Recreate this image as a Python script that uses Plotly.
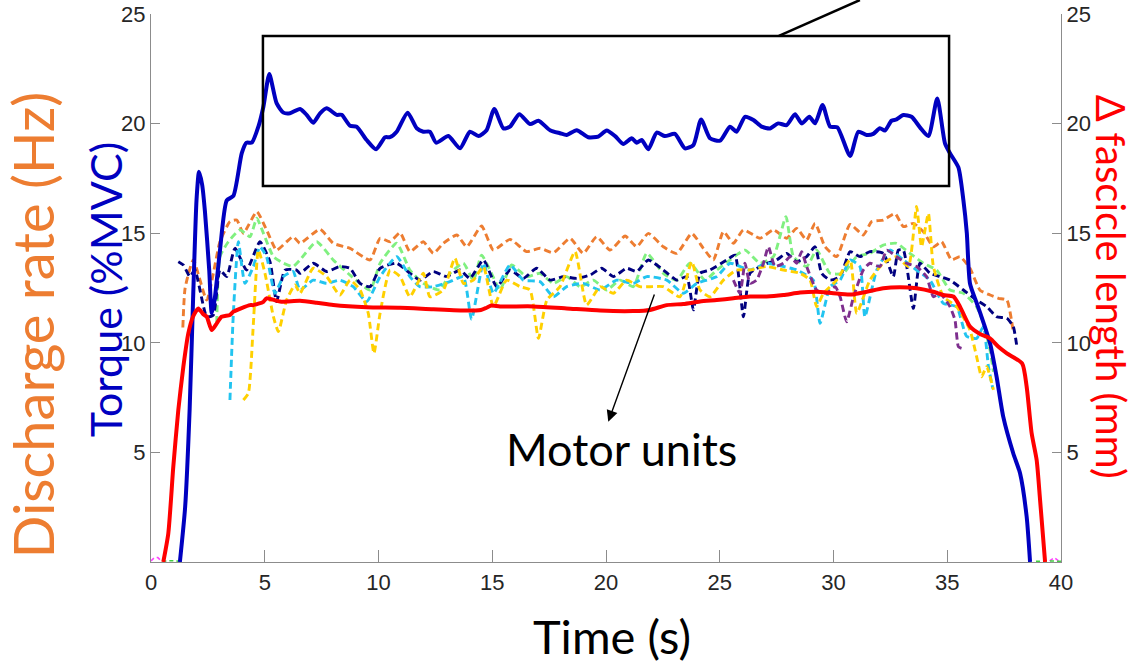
import plotly.graph_objects as go

# ---------------- data ----------------
tq_x = [1.27,1.5,1.7,1.85,2.0,2.11,2.25,2.37,2.56,2.67,2.8,3.03,3.33,3.62,3.99,4.2,4.43,4.72,4.94,5.2,
        5.52,5.82,6.11,6.55,6.84,7.13,7.43,7.72,8.16,8.38,8.75,9.04,9.48,9.89,10.29,10.5,10.8,11.28,11.68,11.97,
        12.26,12.53,13.07,13.58,14.02,14.39,14.75,15.09,15.49,15.78,16.19,16.66,17.03,17.54,17.98,18.27,18.71,19.22,19.66,20.03,
        20.4,20.76,21.13,21.35,21.57,21.86,22.23,22.59,23.03,23.47,23.84,24.18,24.57,25.01,25.45,25.74,26.11,26.48,26.84,27.21,
        27.57,27.94,28.31,28.6,28.94,29.19,29.52,29.85,30.17,30.73,31.09,31.46,31.75,32.04,32.26,32.55,32.77,33.07,33.43,33.8,
        34.17,34.56,34.9,35.12,35.49,35.71,35.86,36.0,36.3,36.6,36.88,37.17,37.46,37.9,38.2,38.49,38.64]
tq_y = [0,2.5,7.0,12.0,16.5,17.8,17.2,16.0,13.3,11.35,12.0,14.2,16.5,16.7,18.65,19.13,19.13,19.86,20.77,22.26,
        20.93,20.5,20.47,20.67,20.4,20.04,20.47,20.7,20.4,20.4,19.9,19.86,19.25,18.83,19.38,19.38,19.63,20.5,19.79,19.63,
        19.63,19.13,19.43,18.87,19.63,19.43,19.7,20.67,19.78,19.86,20.43,19.98,20.13,19.7,19.56,19.48,19.7,19.38,19.41,19.68,
        19.43,19.07,19.33,19.13,19.25,18.83,19.59,19.43,19.53,18.87,19.02,20.19,19.33,19.22,19.86,19.63,20.31,20.16,19.86,19.78,
        20.01,19.93,20.43,20.01,20.31,20.01,20.85,19.86,19.83,18.52,19.63,19.48,19.53,19.79,19.68,20.13,20.19,20.39,20.31,19.83,
        19.43,21.15,19.1,18.65,18.0,16.5,15.0,12.7,11.8,10.9,9.98,8.45,6.63,4.96,4.05,2.07,0]

fl_x = [0.54,0.76,0.98,1.2,1.42,1.64,1.85,2.08,2.3,2.45,2.67,2.9,3.1,3.47,3.62,4.35,4.5,4.94,5.08,5.67,
        6.55,7.28,8.01,9.48,10.95,12.41,13.88,14.5,14.75,14.97,15.34,16.8,18.27,19.74,21.2,21.93,22.67,23.4,24.13,24.87,
        25.6,26.33,27.06,27.8,28.53,29.26,29.99,30.73,31.46,32.19,32.92,33.65,34.39,34.83,35.27,35.56,36.0,36.44,36.88,37.25,
        37.62,38.29,38.49,38.71,38.93,39.08,39.3]
fl_y = [0,1.3,4.35,6.93,8.9,10.43,11.2,11.57,11.3,11.19,10.58,10.9,11.19,11.27,11.42,11.72,11.72,11.87,12.03,11.88,
        11.92,11.83,11.72,11.62,11.6,11.53,11.47,11.5,11.6,11.7,11.66,11.66,11.57,11.47,11.45,11.5,11.72,11.77,11.88,11.95,
        12.03,12.11,12.11,12.18,12.29,12.33,12.26,12.2,12.33,12.49,12.53,12.49,12.33,12.18,12.11,11.65,10.74,10.4,10.2,9.82,
        9.52,9.06,8.0,5.87,4.65,2.83,0]

or_x = [1.4,1.5,1.86,2.45,3.03,3.47,3.77,4.06,4.65,5.08,5.52,5.96,6.25,6.55,7.43,8.01,8.75,9.63,10.07,10.51,
        10.95,11.38,11.97,12.41,12.85,13.44,13.88,14.53,15.05,15.78,16.51,17.1,17.69,18.42,19.0,19.59,20.18,20.84,21.35,21.86,
        22.52,23.11,23.77,24.28,24.72,25.16,25.6,26.04,26.77,27.36,27.94,28.38,28.82,29.19,29.63,30.14,30.73,31.31,31.68,32.19,
        32.7,33.07,33.51,33.95,34.39,34.75,35.19,35.56,36.0,36.44,36.88,37.25,37.62,37.9]
or_y = [10.7,12.5,13.78,11.95,14.61,15.53,15.6,15.0,15.98,15.15,14.23,14.61,14.84,14.54,15.18,14.54,14.31,13.78,14.77,14.61,
        15.02,14.16,14.61,14.08,14.54,14.92,14.38,15.33,14.23,14.72,14.16,14.31,14.11,14.77,14.08,14.84,14.23,14.87,14.38,14.99,
        14.38,14.08,14.99,14.31,13.78,15.07,14.54,15.15,14.77,15.15,14.77,15.22,14.69,15.45,14.38,13.93,15.4,14.92,15.53,15.6,
        15.9,15.3,15.45,15.07,14.38,14.61,13.78,13.93,13.4,12.4,12.18,12.03,11.95,10.5]

gr_x = [2.89,3.03,3.4,3.91,4.35,4.65,4.94,5.38,5.82,6.25,6.55,7.28,8.01,8.75,9.63,10.07,10.8,11.38,11.97,12.7,
        13.14,13.73,14.17,14.53,14.97,15.34,15.85,16.51,17.1,17.69,18.27,18.86,19.44,20.03,20.62,21.2,21.79,22.52,23.11,23.69,
        24.35,24.87,25.45,26.11,26.77,27.36,27.91,28.24,28.82,29.26,29.85,30.43,31.02,31.6,32.19,32.77,33.36,33.95,34.53,35.12,
        35.71,36.29,36.59,36.88,37.03]
gr_y = [10.89,13.93,14.61,15.15,14.84,15.68,15.0,13.93,13.63,13.48,13.78,14.61,13.78,13.09,12.41,13.63,14.54,13.32,12.71,12.41,
        13.17,13.63,12.86,14.0,13.17,12.41,13.55,13.02,13.17,12.71,13.02,12.56,12.86,12.41,12.86,12.56,14.08,13.17,12.86,13.63,
        12.86,13.32,13.78,14.23,13.63,13.93,15.75,13.93,13.48,14.23,13.17,13.17,13.93,14.08,14.46,14.54,14.08,13.63,13.32,12.41,
        12.26,11.65,10.9,9.67,8.68]

nv_x = [1.2,1.42,1.71,1.93,2.45,2.74,3.03,3.33,3.69,4.2,4.79,5.23,5.52,5.89,6.4,6.55,7.13,7.72,8.3,8.75,
        9.19,9.63,10.07,10.8,11.38,11.82,12.41,12.99,13.58,14.02,14.61,15.2,15.78,16.37,16.95,17.54,18.12,18.71,19.3,19.81,
        20.32,20.91,21.35,21.86,22.52,23.11,23.55,23.84,24.13,24.57,25.31,25.67,26.04,26.33,26.92,27.5,27.94,28.38,28.82,29.19,
        29.48,29.85,30.29,30.73,31.16,31.6,32.19,32.63,32.85,33.07,33.51,33.8,34.24,34.68,35.12,35.71,36.29,36.73,37.17,37.62,
        37.9,38.05]
nv_y = [13.7,13.55,13.02,13.32,11.19,11.27,13.32,13.02,14.31,13.32,14.61,13.7,11.88,13.32,13.32,13.17,13.63,13.25,13.48,13.4,
        12.71,12.56,13.4,13.63,13.17,12.86,13.25,13.02,13.32,12.94,13.78,12.56,13.32,12.94,13.4,12.86,13.02,12.94,13.09,13.4,
        13.02,13.4,13.25,13.78,13.32,12.86,13.02,11.5,13.17,13.32,13.78,14.0,11.19,13.17,13.55,13.78,14.08,13.7,13.93,14.38,
        13.17,12.86,13.02,14.16,13.93,14.16,14.08,13.02,14.23,14.23,11.57,13.63,13.17,13.02,12.86,12.41,11.95,11.65,11.19,11.12,
        10.74,9.9]

cy_x = [3.47,3.62,3.84,4.13,4.5,4.79,5.08,5.45,5.82,6.25,6.55,7.13,7.72,8.3,8.89,9.48,10.07,10.8,11.38,11.82,
        12.41,13.14,13.73,14.09,14.61,15.05,15.78,16.37,17.1,17.69,18.27,19.0,19.74,20.47,21.2,21.79,22.67,23.4,23.99,24.87,
        25.45,26.33,27.06,27.8,28.38,29.11,29.41,29.85,30.29,30.73,31.16,31.38,31.9,32.48,33.07,33.65,34.24,34.83,35.41,35.85,
        36.29,36.59,36.81,37.0]
cy_y = [7.39,11.35,14.61,12.71,13.48,14.38,13.93,12.26,13.02,13.25,12.41,12.86,12.71,12.86,12.56,11.88,13.02,13.93,13.02,12.56,
        12.56,12.79,13.02,11.07,13.63,12.26,13.55,12.86,12.79,12.1,12.56,12.71,12.41,12.86,12.71,13.02,12.86,12.26,12.71,13.02,
        13.63,13.32,13.63,13.48,13.32,12.86,10.89,12.56,12.86,13.78,13.48,11.19,13.32,14.23,13.78,13.32,12.86,11.8,11.65,10.3,
        10.2,10.74,8.91,7.92]

ye_x = [4.06,4.28,4.5,4.72,5.01,5.38,5.6,5.96,6.33,6.55,7.13,7.72,8.3,8.75,9.19,9.55,9.8,10.07,10.51,10.95,
        11.38,11.97,12.26,12.85,13.36,13.73,14.17,14.61,15.05,15.63,16.22,16.66,17.03,17.4,17.98,18.64,19.15,19.74,20.32,20.91,
        21.49,21.93,22.52,23.25,23.77,24.13,24.57,25.16,25.74,26.33,27.06,27.8,28.53,28.97,29.26,29.56,30.14,30.73,31.02,31.6,
        32.19,32.77,33.29,33.65,33.87,34.17,34.39,34.83,35.41,36.0,36.29,36.51,36.73,37.03]
ye_y = [7.39,7.7,10.89,14.23,13.17,11.19,10.51,11.95,12.64,12.26,13.4,13.02,12.18,12.86,12.41,11.35,9.52,11.35,13.32,13.02,
        12.1,13.17,12.1,12.41,13.86,12.71,12.86,13.48,11.65,12.86,12.56,12.41,10.2,11.95,12.56,14.16,11.72,12.56,12.26,12.86,
        12.56,12.56,12.56,12.1,13.7,12.41,12.1,12.86,13.32,13.32,13.48,13.32,13.17,12.86,11.65,12.26,12.86,13.78,11.35,12.86,
        13.63,13.93,13.48,16.22,14.38,15.9,13.48,12.1,11.65,10.58,9.37,8.45,8.91,7.85]

pu_x = [25.6,25.89,26.11,26.33,26.62,26.92,27.14,27.43,27.8,28.09,28.38,28.6,28.82,29.26,29.7,30.07,30.29,30.58,30.88,31.31,
        31.6,32.04,32.34,32.77,33.21,33.65,34.09,34.39,34.68,35.12,35.34,35.49,35.63]
pu_y = [12.86,12.26,13.63,12.71,12.86,13.63,14.38,13.48,13.63,13.93,13.63,14.16,13.48,12.41,12.26,12.56,12.1,10.96,12.1,13.32,
        13.63,13.48,14.23,13.93,13.63,13.48,13.02,12.1,12.26,11.65,11.04,9.82,9.75]

# tiny residual traces lying on the baseline
pk_x = [0.0,0.15,0.3,0.45,39.5,39.7,39.9]
pk_y = [0.05,0.2,0.2,0.05,0.05,0.2,0.05]
lg_x = [0.5,0.9,1.3,38.9,39.5,40.0]
lg_y = [0.03,0.06,0.03,0.03,0.05,0.03]

x_ticks = [0, 5, 10, 15, 20, 25, 30, 35, 40]
y_ticks = [5, 10, 15, 20, 25]

for a, b in [(tq_x, tq_y), (fl_x, fl_y), (or_x, or_y), (gr_x, gr_y), (nv_x, nv_y),
             (cy_x, cy_y), (ye_x, ye_y), (pu_x, pu_y), (pk_x, pk_y), (lg_x, lg_y)]:
    assert len(a) == len(b), (len(a), len(b))

# ---------------- figure ----------------
fig = go.Figure()

mu_series = [
    (or_x, or_y, "#ED7D31"),
    (gr_x, gr_y, "#80F080"),
    (nv_x, nv_y, "#00007F"),
    (cy_x, cy_y, "#22C4F0"),
    (ye_x, ye_y, "#FFD000"),
    (pu_x, pu_y, "#7E2F8E"),
]
for mx, my, col in mu_series:
    fig.add_trace(go.Scatter(x=mx, y=my, mode="lines",
                             line=dict(color=col, width=2.9, dash="7px,4px", shape="spline", smoothing=0.5),
                             showlegend=False, hoverinfo="skip"))

# baseline residuals (split at gaps)
for sl in (slice(0, 4), slice(4, None)):
    fig.add_trace(go.Scatter(x=pk_x[sl], y=pk_y[sl], mode="lines",
                             line=dict(color="#FF40FF", width=1.5, dash="4px,3px"), showlegend=False))
for sl in (slice(0, 3), slice(3, None)):
    fig.add_trace(go.Scatter(x=lg_x[sl], y=lg_y[sl], mode="lines",
                             line=dict(color="#40D040", width=1.5, dash="4px,3px"), showlegend=False))

fig.add_trace(go.Scatter(x=fl_x, y=fl_y, mode="lines", yaxis="y2",
                         line=dict(color="#FF0000", width=4, shape="spline", smoothing=0.6),
                         showlegend=False))
fig.add_trace(go.Scatter(x=tq_x, y=tq_y, mode="lines",
                         line=dict(color="#0000C0", width=4, shape="spline", smoothing=0.6),
                         showlegend=False))

tick_font = dict(family="Liberation Sans, Arial, sans-serif", size=22, color="#262626")
axis_common = dict(showgrid=False, zeroline=False, showline=True, linecolor="#8C8C8C", linewidth=1.2,
                   ticks="inside", tickcolor="#8C8C8C", tickwidth=1, tickfont=tick_font, automargin=False)

fig.update_layout(
    width=1138, height=664,
    margin=dict(l=151, r=77, t=14, b=102, autoexpand=False),
    paper_bgcolor="white", plot_bgcolor="white",
    xaxis=dict(range=[0, 40], tickvals=x_ticks, ticklen=12, **axis_common),
    yaxis=dict(range=[0, 25], tickvals=y_ticks, ticklen=9, **axis_common),
    yaxis2=dict(range=[0, 25], tickvals=y_ticks, ticklen=9, overlaying="y", side="right", anchor="x",
                **axis_common),
    showlegend=False,
)

title_font = "Lato, Calibri, Carlito, sans-serif"
fig.add_annotation(text="Time (s)", xref="paper", yref="paper", x=0.507, y=-0.135,
                   showarrow=False, font=dict(family=title_font, size=47, color="black"),
                   xanchor="center", yanchor="middle")
fig.add_annotation(text="Discharge rate (Hz)", xref="paper", yref="paper", x=-0.1295, y=0.4325,
                   textangle=-90, showarrow=False, font=dict(family=title_font, size=56, color="#ED7D31"),
                   xanchor="center", yanchor="middle")
fig.add_annotation(text="Torque (%MVC)", xref="paper", yref="paper", x=-0.0505, y=0.496,
                   textangle=-90, showarrow=False, font=dict(family=title_font, size=43, color="#0000C0"),
                   xanchor="center", yanchor="middle")
fig.add_annotation(text="Δ fascicle length (mm)", xref="paper", yref="paper", x=1.055, y=0.502,
                   textangle=90, showarrow=False, font=dict(family=title_font, size=40, color="#FF0000"),
                   xanchor="center", yanchor="middle")

# "Motor units" label with arrow
fig.add_annotation(text="Motor units", x=20.66, y=5.15, xref="x", yref="y", showarrow=False,
                   font=dict(family=title_font, size=45, color="black"), xanchor="center", yanchor="middle")
fig.add_annotation(text="", x=20.1, y=6.4, ax=22.15, ay=12.27, xref="x", yref="y", axref="x", ayref="y",
                   showarrow=True, arrowhead=2, arrowsize=1.6, arrowwidth=1.4, arrowcolor="black")

# box around the torque plateau and leader line
fig.add_shape(type="rect", x0=4.92, x1=35.08, y0=17.15, y1=24.0, xref="x", yref="y",
              line=dict(color="black", width=2.5), fillcolor="rgba(0,0,0,0)")
fig.add_shape(type="line", x0=0.690, y0=0.960, x1=0.779, y1=1.0255, xref="paper", yref="paper",
              line=dict(color="black", width=2.5))

fig.write_html("out.html")
